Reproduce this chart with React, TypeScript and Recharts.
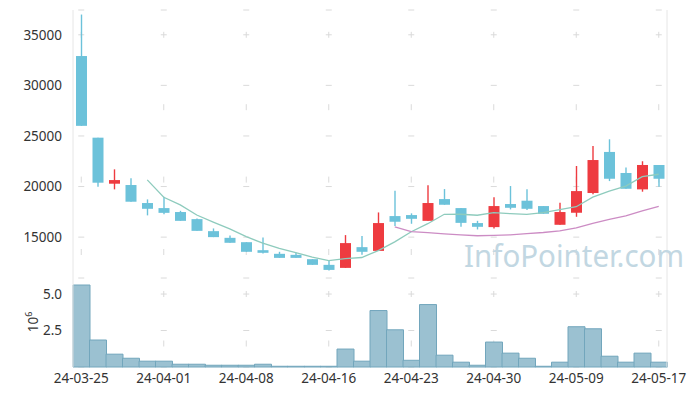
import React from "react";
import {
  Bar,
  CartesianGrid,
  ComposedChart,
  Line,
  XAxis,
  YAxis,
} from "recharts";

const dates = [
  "24-03-25", "24-03-26", "24-03-27", "24-03-28", "24-03-29",
  "24-04-01", "24-04-02", "24-04-03", "24-04-04", "24-04-05",
  "24-04-08", "24-04-09", "24-04-11", "24-04-12", "24-04-15",
  "24-04-16", "24-04-17", "24-04-18", "24-04-19", "24-04-22",
  "24-04-23", "24-04-24", "24-04-25", "24-04-26", "24-04-29",
  "24-04-30", "24-05-02", "24-05-03", "24-05-07", "24-05-08",
  "24-05-09", "24-05-10", "24-05-13", "24-05-14", "24-05-16",
  "24-05-17",
];

const opens = [
  32900, 24830, 20280, 20150, 18370, 17870, 17480, 16780, 15590, 14930,
  14500, 13710, 13350, 13250, 12820, 12260, 11960, 14010, 13640, 17080,
  17180, 16610, 18760, 17870, 16390, 15990, 18270, 18600, 18070, 16220,
  17410, 19360, 23420, 21340, 19720, 22130,
];
const highs = [
  37000, 24830, 21700, 20810, 18730, 18990, 17600, 16850, 15860, 15160,
  14500, 14970, 13550, 13450, 12820, 12650, 15200, 15100, 17440, 19580,
  17350, 20120, 19750, 17870, 16610, 18930, 20050, 19720, 18070, 18400,
  22030, 24010, 24670, 21890, 22500, 22130,
];
const lows = [
  26000, 19980, 19720, 18500, 17150, 17250, 16610, 15620, 15000, 14440,
  13550, 13390, 12950, 12950, 12260, 11700, 11960, 13250, 13640, 16090,
  16320, 16610, 18200, 16020, 15760, 15860, 17740, 17670, 17310, 16220,
  17010, 19230, 20540, 19780, 19490, 19980,
];
const closes = [
  26000, 20380, 20640, 18500, 17800, 17400, 16610, 15620, 15000, 14440,
  13550, 13450, 12950, 12950, 12260, 11760, 14410, 13550, 16390, 16520,
  16810, 18370, 18200, 16410, 16020, 18070, 17900, 17800, 17310, 17480,
  19550, 22620, 20770, 19780, 22130, 20770,
];

// 5-day and 20-day average lines
const ma5 = [
  null, null, null, null, 20664, 18944, 18190, 17186, 16486, 15814,
  15044, 14412, 13878, 13468, 13032, 12674, 12866, 12986, 13674, 14526,
  15536, 16328, 17258, 17262, 17162, 17414, 17320, 17240, 17420, 17712,
  18008, 18952, 19546, 20040, 20970, 21214,
];
const ma20 = [
  null, null, null, null, null, null, null, null, null, null,
  null, null, null, null, null, null, null, null, null, 16009,
  15550, 15449, 15327, 15223, 15134, 15167, 15232, 15341, 15456, 15608,
  15908, 16367, 16758, 17099, 17593, 18043,
];

// volume in millions
const volumes = [
  5.62, 1.85, 0.88, 0.6, 0.4, 0.4, 0.19, 0.19, 0.12, 0.12,
  0.12, 0.19, 0.05, 0.05, 0.05, 0.05, 1.23, 0.4, 3.87, 2.55,
  0.46, 4.28, 0.81, 0.33, 0.12, 1.71, 0.95, 0.6, 0.05, 0.33,
  2.76, 2.62, 0.74, 0.33, 0.95, 0.33,
];

const priceTicks = [15000, 20000, 25000, 30000, 35000];
const volTicks = [2.5, 5.0];
const tickIdx = dates.map((_, i) => i).filter((i) => i % 5 === 0);

const data = dates.map((d, i) => ({
  date: d,
  open: opens[i],
  high: highs[i],
  low: lows[i],
  close: closes[i],
  range: [lows[i], highs[i]],
  ma5: ma5[i],
  ma20: ma20[i],
  vol: volumes[i],
}));

const UP = "#ee3b40";
const DOWN = "#6cc2da";
const LINE = "#e6e6e6";
const CROSS = "#dadada";
const FONT = "'Noto Sans', sans-serif";

const Candle = (props: any) => {
  const { x, y, width, height, payload } = props;
  if (!payload) return null;
  const top = Math.min(y, y + height);
  const h = Math.abs(height);
  const span = payload.high - payload.low || 1;
  const k = h / span;
  const yo = top + (payload.high - payload.open) * k;
  const yc = top + (payload.high - payload.close) * k;
  const color = payload.close >= payload.open ? UP : DOWN;
  const cx = x + width / 2;
  const bw = 11;
  return (
    <g>
      <line x1={cx} x2={cx} y1={top} y2={top + h} stroke={color} strokeWidth={1.4} />
      <rect
        x={cx - bw / 2}
        y={Math.min(yo, yc)}
        width={bw}
        height={Math.max(1.5, Math.abs(yc - yo))}
        fill={color}
      />
    </g>
  );
};

// grid crosses sit on every 5th category
const vGen = (args: any) => {
  const off = (args && args.offset) || {};
  const left = off.left ?? 73;
  const w = off.width ?? 594;
  const band = w / dates.length;
  return tickIdx.map((i) => left + band * (i + 0.5));
};

const tickStyle = { fontSize: 13.5, fill: "#333", fontFamily: FONT };

export default function App() {
  return (
    <div style={{ position: "absolute", left: 0, top: 0, width: 700, height: 396, background: "#fff" }}>
      <div style={{ position: "absolute", left: 0, top: 0 }}>
        <ComposedChart width={700} height={278} data={data} margin={{ top: 10, right: 0, bottom: 0, left: 0 }} barCategoryGap={0}>
          <CartesianGrid vertical={false} stroke={CROSS} strokeDasharray="0 5.25 6 71.25" />
          <CartesianGrid horizontal={false} stroke={CROSS} strokeDasharray="0 21.8 6 44.6" verticalCoordinatesGenerator={vGen} />
          <XAxis dataKey="date" height={0} tick={false} tickLine={false} axisLine={{ stroke: LINE }} interval={4} />
          <XAxis xAxisId="top" dataKey="date" orientation="top" height={0} tick={false} tickLine={false} axisLine={{ stroke: LINE }} />
          <YAxis
            width={73}
            domain={[10960, 37450]}
            ticks={priceTicks}
            allowDataOverflow
            tickLine={false}
            axisLine={{ stroke: LINE }}
            tick={tickStyle}
            tickMargin={5}
          />
          <YAxis yAxisId="r" orientation="right" width={33} tick={false} tickLine={false} axisLine={{ stroke: LINE }} />
          <Bar dataKey="range" shape={<Candle />} isAnimationActive={false} />
          <Line dataKey="ma5" stroke="#8ecbbd" strokeWidth={1.3} dot={false} isAnimationActive={false} />
          <Line dataKey="ma20" stroke="#cc8cc4" strokeWidth={1.3} dot={false} isAnimationActive={false} />
        </ComposedChart>
      </div>
      <div style={{ position: "absolute", left: 0, top: 278 }}>
        <ComposedChart width={700} height={118} data={data} margin={{ top: 0, right: 0, bottom: 0, left: 0 }} barCategoryGap={0}>
          <CartesianGrid vertical={false} stroke={CROSS} strokeDasharray="0 5.25 6 71.25" />
          <CartesianGrid horizontal={false} stroke={CROSS} strokeDasharray="0 13 6 30.5" verticalCoordinatesGenerator={vGen} />
          <XAxis
            dataKey="date"
            height={29}
            interval={4}
            tickLine={false}
            axisLine={false}
            tick={tickStyle}
            tickMargin={0}
          />
          <YAxis
            width={73}
            domain={[0, 6.1]}
            ticks={volTicks}
            tickFormatter={(v: number) => v.toFixed(1)}
            tickLine={false}
            axisLine={{ stroke: LINE }}
            tick={tickStyle}
            tickMargin={5}
          />
          <YAxis yAxisId="r" orientation="right" width={33} tick={false} tickLine={false} axisLine={{ stroke: LINE }} />
          <Bar dataKey="vol" fill="#9bc1d1" stroke="#72a6bc" strokeWidth={1} isAnimationActive={false} />
        </ComposedChart>
      </div>
      <svg width={700} height={396} style={{ position: "absolute", left: 0, top: 0, pointerEvents: "none" }}>
        <text
          x={464}
          y={267}
          fontFamily={FONT}
          fontSize={31}
          fill="#c2d7e2"
          textLength={220}
          lengthAdjust="spacingAndGlyphs"
        >
          InfoPointer.com
        </text>
        <text x={38} y={322} transform="rotate(-90 38 322)" textAnchor="middle" fontFamily={FONT} fontSize={13.5} fill="#333">
          10<tspan fontSize={9} dy={-6}>6</tspan>
        </text>
      </svg>
    </div>
  );
}
